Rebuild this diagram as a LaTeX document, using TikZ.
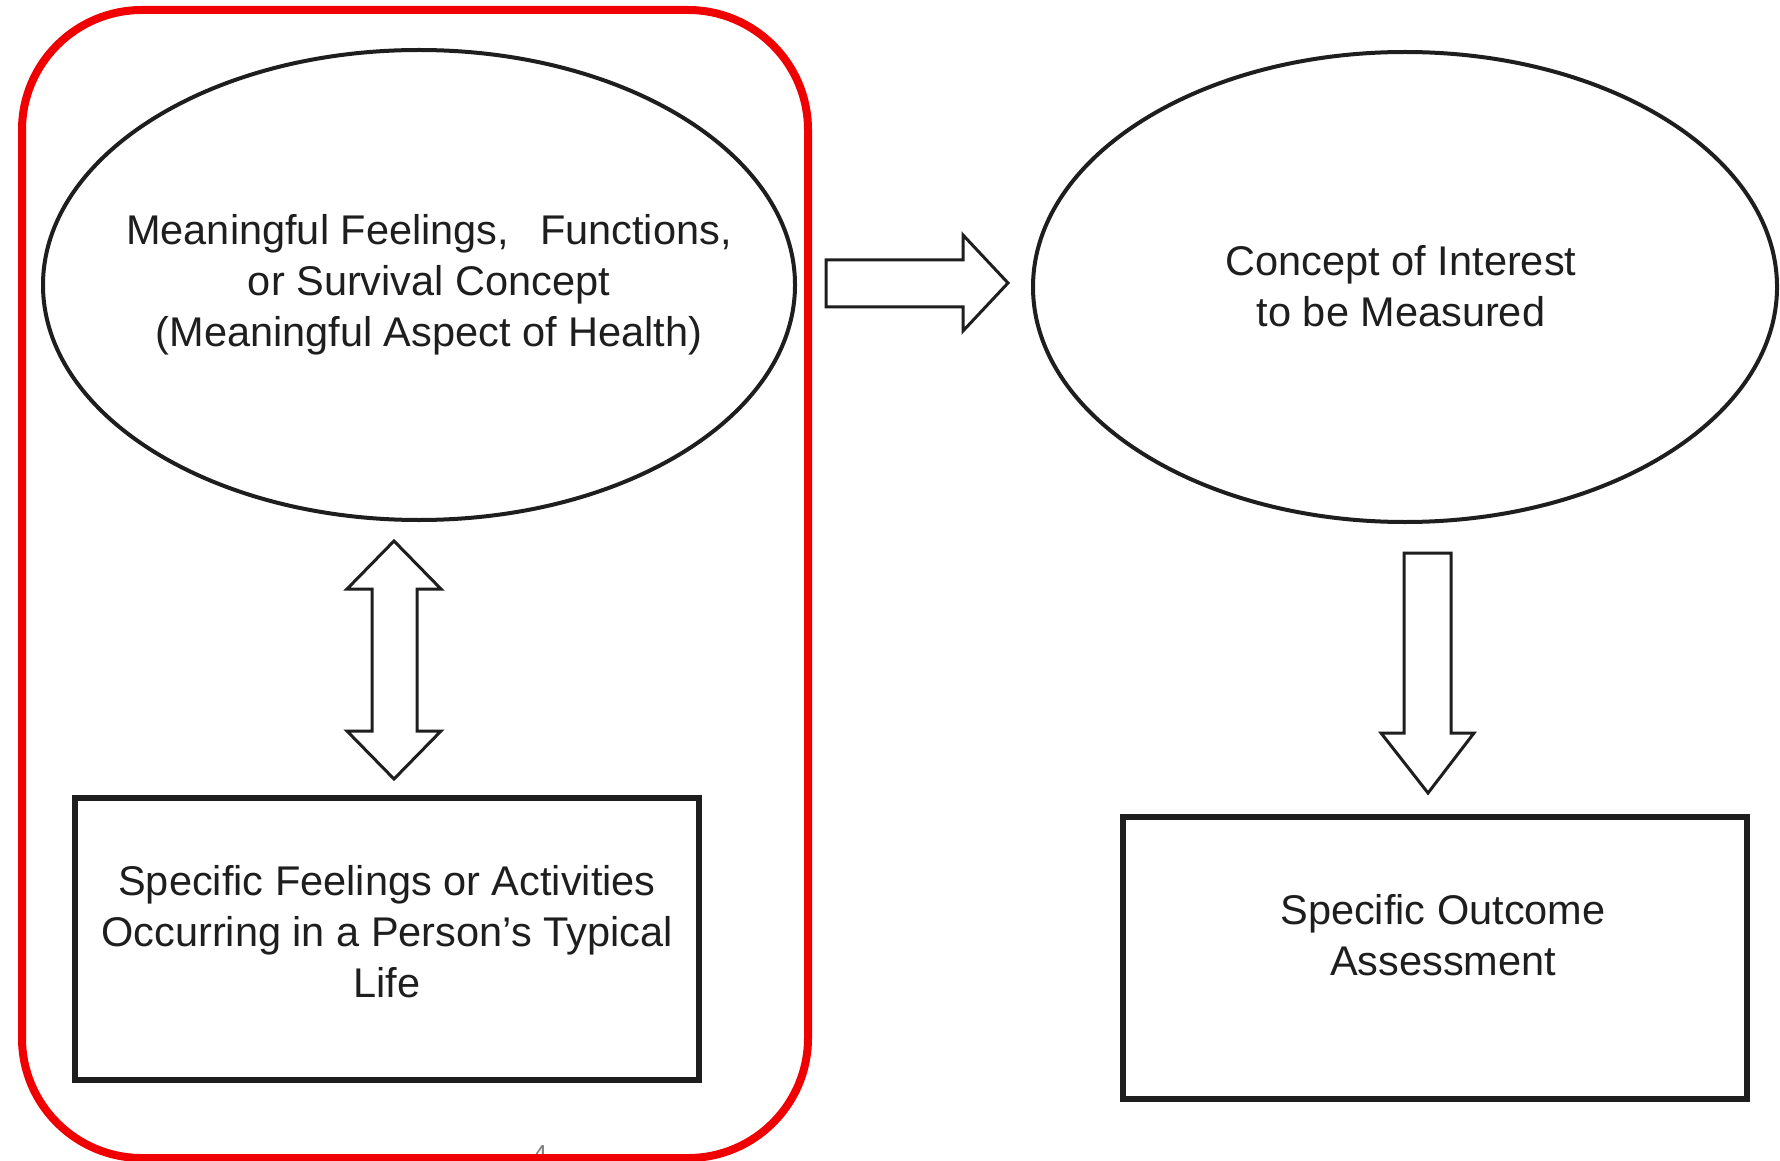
\documentclass[tikz,border=0pt]{standalone}
\usepackage{fontspec}
\setmainfont{Liberation Sans}
\usetikzlibrary{shapes.geometric}
\definecolor{framered}{RGB}{240,0,0}
\definecolor{ink}{RGB}{30,30,30}

\begin{document}
\begin{tikzpicture}[x=0.5pt, y=-0.5pt,
  every node/.style={text=ink, font=\fontsize{20.75}{25.5}\selectfont, align=center},
  bubble/.style={draw=ink, line width=2pt, ellipse, inner sep=0pt, minimum width=376pt, minimum height=235pt},
  outcome/.style={draw=ink, line width=3.3pt, rectangle, minimum width=312pt, minimum height=141pt},
  blockarrow/.style={draw=ink, line width=1.5pt, line join=miter, fill=white}]
\clip (0,0) rectangle (1780,1160);
\fill[white] (0,0) rectangle (1780,1160);
\node[text=gray, font=\fontsize{13}{15}\selectfont, anchor=base] (page) at (540,1163) {4};
\draw[framered, line width=4pt, rounded corners=60pt] (22,10) rectangle (808,1158);

\node[bubble] (aspect) at (419,285) {};
\node (aspecttext) at (429,285) {Meaningful Feelings,\hspace{0.75em}Functions,\\or Survival Concept\\(Meaningful Aspect of Health)};
\node[bubble, minimum width=372pt] (interest) at (1405,287) {};
\node (interesttext) at (1401,286) {Concept of Interest\\to be Measured};

\node[outcome] (typical) at (387,939) {};
\node (typicaltext) at (387,932) {Specific Feelings or Activities\\Occurring in a Person’s Typical\\Life};
\node[outcome] (assess) at (1435,958) {};
\node (assesstext) at (1443,935) {Specific Outcome\\Assessment};

% block arrows
\draw[blockarrow] (826,260) -- (963,260) -- (963,235) -- (1008,283) -- (963,331) -- (963,307) -- (826,307) -- cycle;
\draw[blockarrow] (394,541) -- (441,589) -- (417,589) -- (417,731) -- (441,731) -- (394,779)
                  -- (347,731) -- (372,731) -- (372,589) -- (347,589) -- cycle;
\draw[blockarrow] (1404,553) -- (1451,553) -- (1451,733) -- (1474,733) -- (1428,793) -- (1381,733) -- (1404,733) -- cycle;
\end{tikzpicture}
\end{document}
